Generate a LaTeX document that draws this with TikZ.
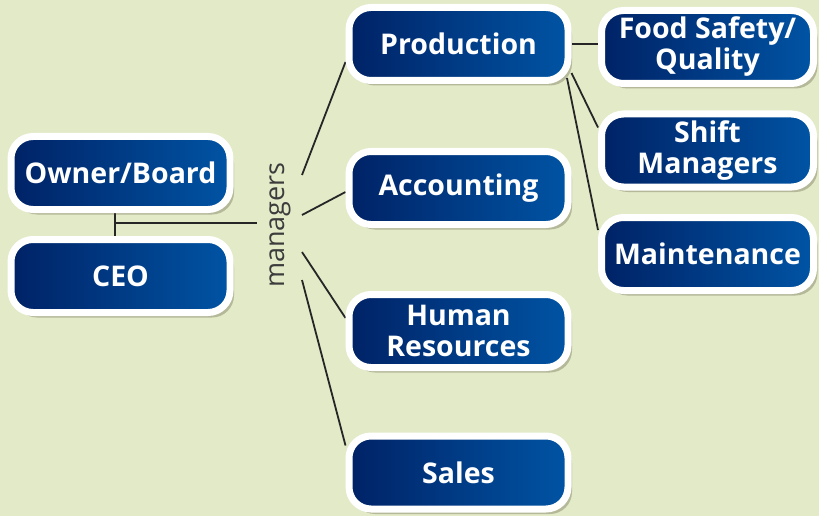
\documentclass[tikz,border=0pt]{standalone}
\usepackage{fontspec}
\setmainfont{Open Sans}
\newfontfamily\thinfont{Open Sans}
\usetikzlibrary{shadows}
\usetikzlibrary{backgrounds}

\definecolor{bgolive}{RGB}{226,234,200}
\definecolor{navydark}{RGB}{0,34,102}
\definecolor{navylight}{RGB}{0,84,164}
\definecolor{mgrgray}{RGB}{60,60,60}

\begin{document}
\begin{tikzpicture}[x=1pt, y=-1pt]
    \tikzset{
        orgbox/.style={rectangle, rounded corners=22pt, draw=white, line width=7pt,
            left color=navydark, right color=navylight, text=white,
            font=\fontsize{28.5}{31}\selectfont\bfseries, align=center,
            minimum width=219pt, minimum height=73pt, inner sep=0pt,
            drop shadow={shadow xshift=4pt, shadow yshift=-5pt, opacity=0.3, fill=black!60!olive}},
        subbox/.style={orgbox, minimum width=212pt},
        link/.style={line width=1.8pt, color=black!85}
    }

    \useasboundingbox (0,0) rectangle (819,516);

    % top of the chart
    \node[orgbox] (owner) at (120.5,173) {Owner/Board};
    \node[orgbox] (ceo) at (120.5,276) {CEO};

    \node[rotate=90, text=mgrgray, font=\thinfont\fontsize{27}{30}\selectfont] (mgr) at (280,225) {managers};

    % departments
    \node[orgbox] (prod) at (458.5,44) {Production};
    \node[orgbox] (acct) at (458.5,188) {Accounting};
    \node[orgbox] (hr) at (458.5,331) {Human\\Resources};
    \node[orgbox] (sales) at (458.5,472.5) {Sales};

    % under production
    \node[subbox] (food) at (707.5,47) {Food Safety/\\Quality};
    \node[subbox] (shift) at (707.5,150.5) {Shift\\Managers};
    \node[subbox] (maint) at (707.5,254) {Maintenance};

    \coordinate (split) at (115,223);
    \coordinate (mgrin) at (257,223);
    \coordinate (fanA) at (302,175);
    \coordinate (fanB) at (302,215);
    \coordinate (fanC) at (302,252);
    \coordinate (fanD) at (302,280);

    \begin{scope}[on background layer]
        \fill[bgolive] (0,0) rectangle (819,516);
        \draw[link] (owner.south -| split) -- (ceo.north -| split);
        \draw[link] (split) -- (mgrin);
        \draw[link] (fanA) -- ([yshift=-18pt]prod.west);
        \draw[link] (fanB) -- ([yshift=-4pt]acct.west);
        \draw[link] (fanC) -- ([yshift=13pt]hr.west);
        \draw[link] (fanD) -- ([yshift=27pt]sales.west);
        \draw[link] (prod.east) -- (prod.east -| food.west);
        \draw[link] ([yshift=11pt]prod.south east) -- ([yshift=23pt]shift.west);
        \draw[link] ([xshift=-4.5pt,yshift=6pt]prod.south east) -- ([yshift=24pt]maint.west);
    \end{scope}

\end{tikzpicture}
\end{document}
